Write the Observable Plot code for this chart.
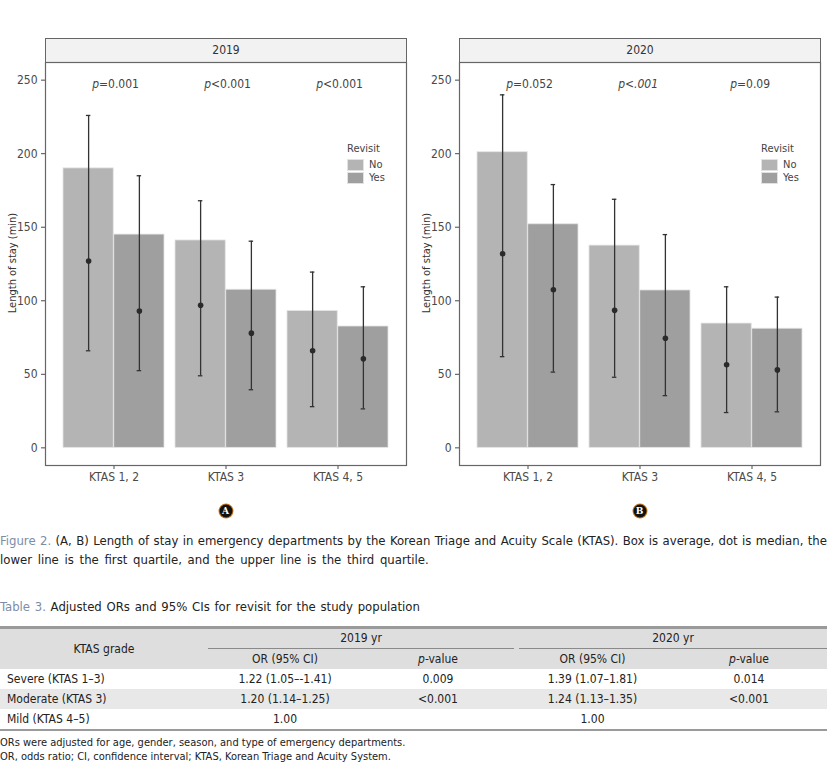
<!DOCTYPE html>
<html><head><meta charset="utf-8">
<script src="https://cdn.jsdelivr.net/npm/d3@7"></script>
<script src="https://cdn.jsdelivr.net/npm/@observablehq/plot@0.6"></script>
<style>
body{margin:0;background:#fff;}
#page{position:relative;width:837px;height:773px;overflow:hidden;font-family:"Liberation Sans Narrow","DejaVu Sans Condensed","Roboto Condensed",sans-serif;color:#222;}
.abs{position:absolute;}
.strip{position:absolute;top:38px;height:25px;box-sizing:border-box;background:#f2f2f2;border:1px solid #666;text-align:center;font-size:12px;line-height:23px;color:#333;}
.ylab{position:absolute;font-size:11px;color:#333;white-space:nowrap;transform:translate(-50%,-50%) rotate(-90deg);}
.legend{position:absolute;font-size:11px;color:#444;line-height:13px;}
.legend .key{display:flex;align-items:center;height:13px;}
.legend .sw{width:17px;height:12px;box-sizing:border-box;border:1px solid #e2e2e2;margin-right:5px;}
.badge{position:absolute;width:13px;height:13px;border-radius:50%;background:#111;color:#fff;font-size:9px;font-weight:bold;text-align:center;line-height:13px;box-shadow:0 0 0 1px #c87a20;font-family:"DejaVu Serif",serif;transform:translate(-50%,-50%);}
.cap{position:absolute;left:0;width:827px;font-size:13px;line-height:19px;color:#222;}
.cap b{font-weight:normal;color:#7d8da6;}
table{position:absolute;left:0;top:626px;width:827px;border-collapse:separate;border-spacing:0;font-size:12px;color:#222;border-top:3px solid #9a9a9a;border-bottom:2px solid #9a9a9a;table-layout:fixed;}
th{font-weight:normal;background:#dedede;padding:0;}
td{padding:0;height:20px;text-align:center;}
td.g{text-align:left;padding-left:7px;}
tr.shade td{background:#e8e8e8;}
.foot{position:absolute;left:0;font-size:11px;line-height:14px;color:#222;}
</style>
</head><body>
<div id="page"></div>
<script>
// ---------- data ----------
const categories = ["KTAS 1, 2", "KTAS 3", "KTAS 4, 5"];
const revisitGroups = ["No", "Yes"];
const revisitColors = ["#b4b4b4", "#9f9f9f"];
const years = ["2019", "2020"];
const yTicks = [0, 50, 100, 150, 200, 250];

// bar = average, dot = median, lower line = Q1, upper line = Q3
const mean2019No  = [190, 141, 93];
const mean2019Yes = [145, 107.5, 82.5];
const median2019No  = [127, 97, 66];
const median2019Yes = [93, 78, 60.5];
const q1_2019No  = [66, 49, 28];
const q1_2019Yes = [52.5, 39.5, 26.5];
const q3_2019No  = [226, 168, 119.5];
const q3_2019Yes = [185, 140.5, 109.5];

const mean2020No  = [201, 137.5, 84.5];
const mean2020Yes = [152, 107, 81];
const median2020No  = [132, 93.5, 56.5];
const median2020Yes = [107.5, 74.5, 53];
const q1_2020No  = [62, 48, 24];
const q1_2020Yes = [51.5, 35.5, 24.5];
const q3_2020No  = [240, 169, 109.5];
const q3_2020Yes = [179, 145, 102.5];

const pText2019 = ["=0.001", "<0.001", "<0.001"];
const pItalic2019 = [false, false, false];
const pText2020 = ["=0.052", "<.001", "=0.09"];
const pItalic2020 = [false, true, false];

// table
const tableGrades = ["Severe (KTAS 1–3)", "Moderate (KTAS 3)", "Mild (KTAS 4–5)"];
const tableOR2019 = ["1.22 (1.05–-1.41)", "1.20 (1.14–1.25)", "1.00"];
const tableP2019 = ["0.009", "<0.001", ""];
const tableOR2020 = ["1.39 (1.07–1.81)", "1.24 (1.13–1.35)", "1.00"];
const tableP2020 = ["0.014", "<0.001", ""];

const FONT = '"Liberation Sans Narrow","DejaVu Sans Condensed",sans-serif';

function makeRows(mean, median, q1, q3) {
  return categories.map((k, i) => ({ktas: k, mean: mean[i], median: median[i], q1: q1[i], q3: q3[i]}));
}
const yearData = {
  "2019": {No: makeRows(mean2019No, median2019No, q1_2019No, q3_2019No),
           Yes: makeRows(mean2019Yes, median2019Yes, q1_2019Yes, q3_2019Yes),
           p: categories.map((k, i) => ({ktas: k, label: pText2019[i], italic: pItalic2019[i]}))},
  "2020": {No: makeRows(mean2020No, median2020No, q1_2020No, q3_2020No),
           Yes: makeRows(mean2020Yes, median2020Yes, q1_2020Yes, q3_2020Yes),
           p: categories.map((k, i) => ({ktas: k, label: pText2020[i], italic: pItalic2020[i]}))}
};

function panel(year, width, marginRight) {
  const marginLeft = 45;
  const padIn = 0.1, padOut = 0.15;
  const inner = width - marginLeft - marginRight;
  const step = inner / (categories.length - padIn + 2 * padOut);
  const bw = step * (1 - padIn);
  const cap = 2.5;
  const line = "#333";
  const d = yearData[year];
  const errMarks = (rows, side) => {
    const dx = side * bw / 4;
    const il = side < 0 ? bw / 4 - cap : 3 * bw / 4 - cap;
    const ir = side < 0 ? 3 * bw / 4 - cap : bw / 4 - cap;
    return [
      Plot.ruleX(rows, {x: "ktas", y1: "q1", y2: "q3", dx, stroke: line, strokeWidth: 1.3}),
      Plot.tickY(rows, {x: "ktas", y: "q1", insetLeft: il, insetRight: ir, stroke: line, strokeWidth: 1.3}),
      Plot.tickY(rows, {x: "ktas", y: "q3", insetLeft: il, insetRight: ir, stroke: line, strokeWidth: 1.3}),
      Plot.dot(rows, {x: "ktas", y: "median", dx, r: 2.8, fill: "#2a2a2a", stroke: "none"})
    ];
  };
  return Plot.plot({
    width, height: 431, marginTop: 2, marginBottom: 26, marginLeft, marginRight,
    style: {fontFamily: FONT, fontSize: "12px", color: "#4a4a4a", background: "transparent", overflow: "visible"},
    x: {type: "band", domain: categories, paddingInner: padIn, paddingOuter: padOut, label: null, tickSize: 4, tickPadding: 3},
    y: {domain: [-12, 262], ticks: yTicks, label: null, tickSize: 4, tickPadding: 4},
    marks: [
      Plot.barY(d.No, {x: "ktas", y: "mean", fill: revisitColors[0], insetRight: bw / 2, stroke: "#e4e4e4", strokeWidth: 0.8}),
      Plot.barY(d.Yes, {x: "ktas", y: "mean", fill: revisitColors[1], insetLeft: bw / 2, stroke: "#e4e4e4", strokeWidth: 0.8}),
      ...errMarks(d.No, -1),
      ...errMarks(d.Yes, 1),
      Plot.text(d.p, {x: "ktas", text: () => "p", frameAnchor: "top", dy: 17, dx: -15, textAnchor: "end", fontStyle: "italic", fill: "#444"}),
      Plot.text(d.p.filter(r => !r.italic), {x: "ktas", text: "label", frameAnchor: "top", dy: 17, dx: -15, textAnchor: "start", fill: "#444"}),
      Plot.text(d.p.filter(r => r.italic), {x: "ktas", text: "label", frameAnchor: "top", dy: 17, dx: -15, textAnchor: "start", fontStyle: "italic", fill: "#444"}),
      Plot.frame({stroke: "#666", strokeWidth: 1.2})
    ]
  });
}

const page = document.getElementById("page");
function add(html) { const t = document.createElement("div"); t.innerHTML = html; const el = t.firstElementChild; page.appendChild(el); return el; }

const layout = [
  {year: "2019", left: 0, width: 414, marginRight: 8, badge: "A"},
  {year: "2020", left: 414, width: 418, marginRight: 12, badge: "B"}
];
layout.forEach(L => {
  const px0 = L.left + 45, px1 = L.left + L.width - L.marginRight;
  const strip = add(`<div class="strip"></div>`);
  strip.style.left = px0 + "px"; strip.style.width = (px1 - px0 + 1) + "px"; strip.textContent = L.year;
  const holder = add(`<div class="abs"></div>`);
  holder.style.left = L.left + "px"; holder.style.top = "60px";
  holder.appendChild(panel(L.year, L.width, L.marginRight));
  const yl = add(`<div class="ylab">Length of stay (min)</div>`);
  yl.style.left = (L.left + 12) + "px"; yl.style.top = "263px";
  const lg = add(`<div class="legend"></div>`);
  lg.style.left = (px1 - 59) + "px"; lg.style.top = "142px";
  lg.innerHTML = `<div style="margin-bottom:3px">Revisit</div>` +
    revisitGroups.map((g, i) => `<div class="key"><span class="sw" style="background:${revisitColors[i]}"></span>${g}</div>`).join("");
  const b = add(`<div class="badge"></div>`);
  b.textContent = L.badge; b.style.left = ((px0 + px1) / 2) + "px"; b.style.top = "511px";
});

add(`<div class="cap" style="top:531px;text-align:justify;text-align-last:justify;"><b>Figure 2.</b> (A, B) Length of stay in emergency departments by the Korean Triage and Acuity Scale (KTAS). Box is average, dot is median, the</div>`);
add(`<div class="cap" style="top:550px;word-spacing:2px;">lower line is the first quartile, and the upper line is the third quartile.</div>`);
add(`<div class="cap" style="top:597px;word-spacing:1px;"><b>Table 3.</b> Adjusted ORs and 95% CIs for revisit for the study population</div>`);

const bodyRows = tableGrades.map((g, i) =>
  `<tr class="${i === 1 ? "shade" : ""}"><td class="g">${g}</td><td>${tableOR2019[i]}</td><td>${tableP2019[i].replace("<", "&lt;")}</td><td>${tableOR2020[i]}</td><td>${tableP2020[i].replace("<", "&lt;")}</td></tr>`
).join("");
add(`<table>
<colgroup><col style="width:208px"><col style="width:154px"><col style="width:152px"><col style="width:157px"><col style="width:156px"></colgroup>
<thead>
<tr><th rowspan="2" style="vertical-align:middle;">KTAS grade</th>
<th colspan="2"><div style="border-bottom:1px solid #8a8a8a;height:19px;line-height:19px;">${years[0]} yr</div></th>
<th colspan="2"><div style="border-bottom:1px solid #8a8a8a;height:19px;line-height:19px;margin-left:5px;">${years[1]} yr</div></th></tr>
<tr><th style="height:20px;">OR (95% CI)</th><th><i>p</i>-value</th><th>OR (95% CI)</th><th><i>p</i>-value</th></tr>
</thead>
<tbody>${bodyRows}</tbody></table>`);

add(`<div class="foot" style="top:736px;">ORs were adjusted for age, gender, season, and type of emergency departments.<br>OR, odds ratio; CI, confidence interval; KTAS, Korean Triage and Acuity System.</div>`);
</script>
</body></html>
